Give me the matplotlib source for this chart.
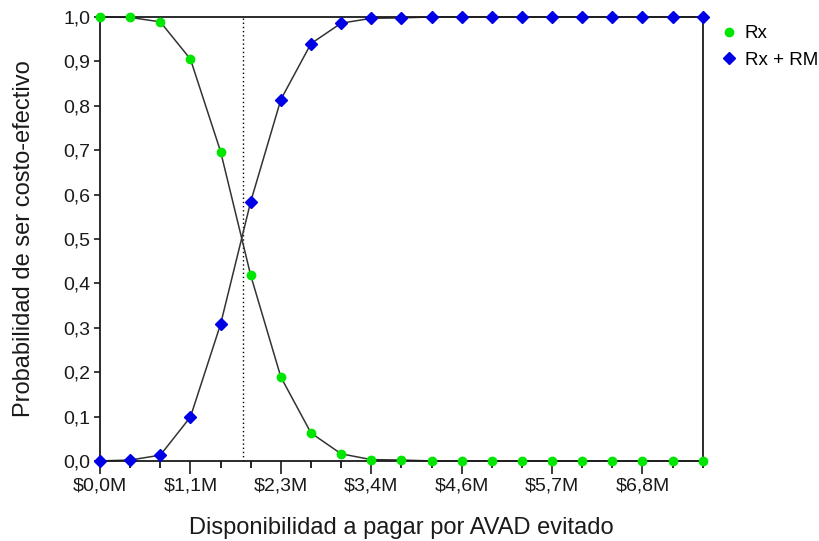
import matplotlib
matplotlib.use("Agg")
import matplotlib.pyplot as plt
from matplotlib.ticker import MultipleLocator, FuncFormatter
import numpy as np

plt.rcParams['font.family'] = ['Liberation Sans', 'DejaVu Sans']

# Willingness to pay per DALY averted (millions of pesos)
wtp = [0.00, 0.38, 0.76, 1.14, 1.52, 1.90, 2.28, 2.66, 3.04, 3.42, 3.80,
       4.18, 4.56, 4.94, 5.32, 5.70, 6.08, 6.46, 6.84, 7.22, 7.60]

# Probability of being cost-effective for each strategy
p_rx = [1.000, 0.999, 0.989, 0.905, 0.697, 0.418, 0.189, 0.063, 0.016, 0.003, 0.002,
        0.000, 0.000, 0.000, 0.000, 0.000, 0.000, 0.000, 0.000, 0.000, 0.000]
p_rx_rm = [0.000, 0.002, 0.013, 0.099, 0.308, 0.584, 0.814, 0.940, 0.986, 0.997, 0.998,
           1.000, 1.000, 1.000, 1.000, 1.000, 1.000, 1.000, 1.000, 1.000, 1.000]

threshold = 1.80
labels = ['Rx', 'Rx + RM']

fig = plt.figure(figsize=(8.2, 5.41), dpi=100)
ax = fig.add_axes([0.122, 0.148, 0.735, 0.8206])

ax.axvline(threshold, ymin=0, ymax=1, color='black', linestyle=(0, (1, 2)), linewidth=1.0, zorder=1)

ax.plot(wtp, p_rx, color='#333333', linewidth=1.1, zorder=2, clip_on=False)
ax.plot(wtp, p_rx_rm, color='#333333', linewidth=1.1, zorder=2, clip_on=False)
h1, = ax.plot(wtp, p_rx, linestyle='none', marker='o', markersize=6.0,
              markerfacecolor='#00e600', markeredgecolor='#00e600', zorder=3, clip_on=False)
h2, = ax.plot(wtp, p_rx_rm, linestyle='none', marker='D', markersize=5.8,
              markerfacecolor='#0000e6', markeredgecolor='#0000e6', zorder=3, clip_on=False)

ax.set_xlim(wtp[0], wtp[-1])
ax.set_ylim(0, 1.0)

step = wtp[1] - wtp[0]
ax.xaxis.set_major_locator(MultipleLocator(3 * step))
ax.xaxis.set_minor_locator(MultipleLocator(step))
ax.xaxis.set_major_formatter(FuncFormatter(lambda v, p: ('$%.1fM' % v).replace('.', ',')))
ax.yaxis.set_major_locator(MultipleLocator(0.1))
ax.yaxis.set_major_formatter(FuncFormatter(lambda v, p: ('%.1f' % v).replace('.', ',')))

ax.tick_params(axis='x', which='major', length=9, width=1.2, labelsize=14, pad=3, colors='#1a1a1a')
ax.tick_params(axis='x', which='minor', length=5, width=1.2)
ax.tick_params(axis='y', which='major', length=4, width=1.2, labelsize=14, pad=3, colors='#1a1a1a')

for s in ax.spines.values():
    s.set_linewidth(1.3)
    s.set_color('#1a1a1a')

ax.set_xlabel('Disponibilidad a pagar por AVAD evitado', fontsize=17, color='#1a1a1a', labelpad=16)
ax.set_ylabel('Probabilidad de ser costo-efectivo', fontsize=17, color='#1a1a1a', labelpad=20)

fig.legend([h1, h2], labels, loc='upper left', bbox_to_anchor=(0.868, 0.967),
           frameon=False, fontsize=13.5, handletextpad=0.35, markerscale=1.0,
           handlelength=1.0, labelspacing=0.5, borderaxespad=0)

fig.savefig('out.png', dpi=100)
